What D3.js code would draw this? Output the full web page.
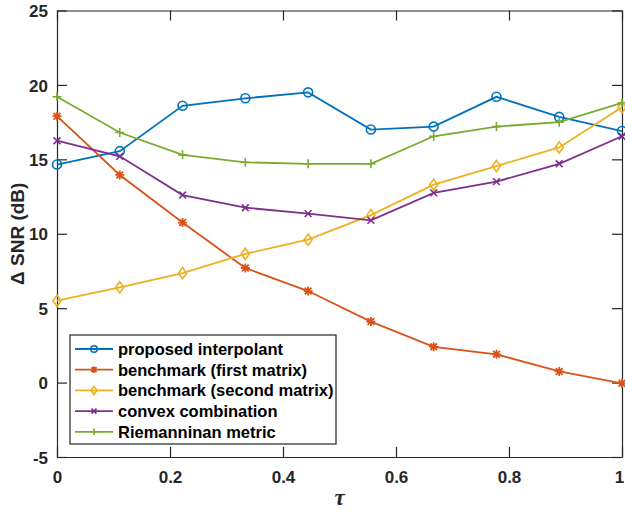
<!DOCTYPE html>
<html><head><meta charset="utf-8">
<script src="https://cdn.jsdelivr.net/npm/d3@7"></script>
<style>body{margin:0;background:#fff}svg{display:block}</style>
</head><body>
<svg id="c" width="625" height="512"></svg>
<script>
const tau = [0, 1/9, 2/9, 3/9, 4/9, 5/9, 6/9, 7/9, 8/9, 1];
const proposed = [14.65, 15.55, 18.6, 19.1, 19.5, 17.0, 17.2, 19.2, 17.85, 16.9];
const benchFirst = [17.9, 13.95, 10.75, 7.7, 6.15, 4.1, 2.4, 1.9, 0.75, -0.05];
const benchSecond = [5.5, 6.4, 7.35, 8.65, 9.6, 11.25, 13.3, 14.55, 15.8, 18.5];
const convex = [16.25, 15.2, 12.6, 11.75, 11.35, 10.9, 12.75, 13.5, 14.7, 16.55];
const riemann = [19.2, 16.8, 15.3, 14.8, 14.7, 14.7, 16.55, 17.2, 17.5, 18.8];
const seriesNames = ["proposed interpolant", "benchmark (first matrix)", "benchmark (second matrix)", "convex combination", "Riemanninan metric"];
const seriesColors = ["#0072BD", "#D95319", "#EDB120", "#7E2F8E", "#77AC30"];
const seriesMarkers = ["circle", "asterisk", "diamond", "cross", "plus"];
const xTicks = [0, 0.2, 0.4, 0.6, 0.8, 1];
const yTicks = [-5, 0, 5, 10, 15, 20, 25];

const series = [proposed, benchFirst, benchSecond, convex, riemann];
const svg = d3.select("#c");
const L = 57, R = 622, T = 10.5, B = 457;
const x = d3.scaleLinear().domain([0, 1]).range([L, R]);
const y = d3.scaleLinear().domain([-5, 25]).range([B, T]);
const axisColor = "#262626";
const font = "'Liberation Sans', Arial, Helvetica, sans-serif";

function marker(g, type, cx, cy, s, color) {
  if (type === "circle") {
    g.append("circle").attr("cx", cx).attr("cy", cy).attr("r", s)
      .attr("fill", "none").attr("stroke", color).attr("stroke-width", 1.6);
  } else if (type === "diamond") {
    g.append("path").attr("d", `M${cx},${cy - s * 1.25}L${cx + s * 0.9},${cy}L${cx},${cy + s * 1.25}L${cx - s * 0.9},${cy}Z`)
      .attr("fill", "none").attr("stroke", color).attr("stroke-width", 1.6);
  } else if (type === "plus") {
    g.append("path").attr("d", `M${cx - s},${cy}H${cx + s}M${cx},${cy - s}V${cy + s}`)
      .attr("stroke", color).attr("stroke-width", 1.6);
  } else if (type === "cross") {
    const d = s * 0.75;
    g.append("path").attr("d", `M${cx - d},${cy - d}L${cx + d},${cy + d}M${cx - d},${cy + d}L${cx + d},${cy - d}`)
      .attr("stroke", color).attr("stroke-width", 1.6);
  } else if (type === "asterisk") {
    const d = s * 0.75;
    g.append("path").attr("d", `M${cx - s},${cy}H${cx + s}M${cx},${cy - s}V${cy + s}M${cx - d},${cy - d}L${cx + d},${cy + d}M${cx - d},${cy + d}L${cx + d},${cy - d}`)
      .attr("stroke", color).attr("stroke-width", 1.8);
  }
}

const fmt = d => String(d);
const xb = svg.append("g").attr("transform", `translate(0,${B})`)
  .call(d3.axisBottom(x).tickValues(xTicks).tickSizeInner(-10).tickSizeOuter(0).tickPadding(14).tickFormat(fmt));
const xt = svg.append("g").attr("transform", `translate(0,${T})`)
  .call(d3.axisTop(x).tickValues(xTicks).tickSizeInner(-10).tickSizeOuter(0).tickFormat(""));
const yl = svg.append("g").attr("transform", `translate(${L},0)`)
  .call(d3.axisLeft(y).tickValues(yTicks).tickSizeInner(-10).tickSizeOuter(0).tickPadding(9).tickFormat(fmt));
const yr = svg.append("g").attr("transform", `translate(${R},0)`)
  .call(d3.axisRight(y).tickValues(yTicks).tickSizeInner(-10).tickSizeOuter(0).tickFormat(""));
[xb, xt, yl, yr].forEach(g => {
  g.selectAll("path.domain").attr("stroke", axisColor).attr("stroke-width", 1.2);
  g.selectAll(".tick line").attr("stroke", axisColor).attr("stroke-width", 1.2);
  g.selectAll("text").attr("fill", axisColor).attr("font-family", font).attr("font-weight", "bold").attr("font-size", 17);
});
yl.selectAll("text").attr("dy", "0.36em");
xb.selectAll("text").attr("dy", "0.68em");
xb.selectAll(".tick").filter(d => d === 1).select("text").attr("text-anchor", "end").attr("dx", "0.1em");

const line = d3.line().x((d, i) => x(tau[i])).y(d => y(d));
series.forEach((s, k) => {
  svg.append("path").datum(s).attr("d", line).attr("fill", "none")
    .attr("stroke", seriesColors[k]).attr("stroke-width", 1.8);
  const g = svg.append("g");
  s.forEach((v, i) => marker(g, seriesMarkers[k], x(tau[i]), y(v), 4.5, seriesColors[k]));
});

svg.append("text").attr("transform", `translate(24,${(T + B) / 2}) rotate(-90)`)
  .attr("text-anchor", "middle").attr("font-family", font).attr("font-weight", "bold")
  .attr("font-size", 19).attr("fill", axisColor).text("\u0394 SNR (dB)");
svg.append("text").attr("x", (L + R) / 2).attr("y", 505).attr("text-anchor", "middle")
  .attr("font-family", "'Liberation Serif', 'DejaVu Serif', serif").attr("font-style", "italic")
  .attr("font-weight", "bold").attr("font-size", 23).attr("fill", axisColor).text("\u03C4");

const lg = svg.append("g");
lg.append("rect").attr("x", 70).attr("y", 335).attr("width", 266).attr("height", 109)
  .attr("fill", "#fff").attr("stroke", axisColor).attr("stroke-width", 1.2);
seriesNames.forEach((n, k) => {
  const cy = 349 + k * 20.7;
  lg.append("line").attr("x1", 75).attr("x2", 113).attr("y1", cy).attr("y2", cy)
    .attr("stroke", seriesColors[k]).attr("stroke-width", 1.8);
  marker(lg, seriesMarkers[k], 94, cy, 3.3, seriesColors[k]);
  lg.append("text").attr("x", 118).attr("y", cy).attr("dy", "0.36em")
    .attr("font-family", font).attr("font-weight", "bold").attr("font-size", 16.5)
    .attr("fill", "#000").text(n);
});
</script>
</body></html>
